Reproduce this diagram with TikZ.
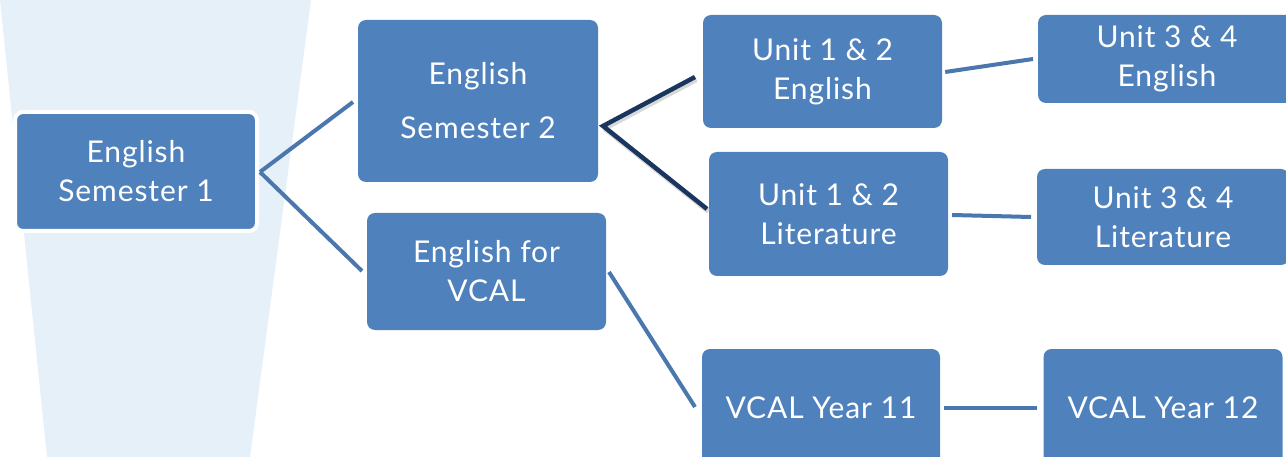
\documentclass[tikz,border=0pt]{standalone}
\usepackage{fontspec}
\setmainfont{Lato}[LetterSpace=3]
\usetikzlibrary{calc}
\definecolor{boxblue}{HTML}{4F81BD}
\definecolor{linkblue}{HTML}{4A77AD}
\definecolor{navy}{HTML}{1B365E}
\definecolor{fadeblue}{HTML}{E5F0F8}
\begin{document}
\begin{tikzpicture}[x=1pt,y=-1pt,
  box/.style={fill=boxblue,rounded corners=8pt,inner sep=0pt,text=white,align=center,
    font=\fontsize{30}{39}\selectfont},
  link/.style={draw=linkblue,line width=4pt},
  darklink/.style={draw=navy,line width=4.5pt,line join=miter},
  shadowlink/.style={draw=black!30,line width=5pt,opacity=0.5}]
\useasboundingbox (0,0) rectangle (1286,457);
\clip (0,0) rectangle (1286,457);
% background fade
\fill[fadeblue] (0,0) -- (311,0) -- (250,457) -- (47,457) -- cycle;
% boxes
\node[box,draw=white,line width=4pt,minimum width=242pt,minimum height=119pt] (s1) at (136,171.5) {English\\Semester 1};
\node[box,minimum width=240pt,minimum height=162pt,font=\fontsize{30}{54}\selectfont] (s2) at (478,101) {English\\Semester 2};
\node[box,minimum width=239pt,minimum height=117pt] (vc) at (486.5,271.5) {English for\\VCAL};
\node[box,minimum width=239pt,minimum height=113pt] (u12e) at (822.5,71.5) {Unit 1 \& 2\\English};
\node[box,minimum width=239pt,minimum height=124pt] (u12l) at (828.5,214) {Unit 1 \& 2\\Literature};
\node[box,minimum width=258pt,minimum height=88pt] (u34e) at (1167,59) {Unit 3 \& 4\\English};
\node[box,minimum width=252pt,minimum height=96pt] (u34l) at (1163,217) {Unit 3 \& 4\\Literature};
\node[box,minimum width=238pt,minimum height=118pt] (y11) at (821,408) {VCAL Year 11};
\node[box,minimum width=239pt,minimum height=118pt] (y12) at (1163,408) {VCAL Year 12};
% connector end points
\coordinate (a1) at ($(s1.east)+(1,0.5)$);
\coordinate (a2) at (603,126);
\coordinate (a3) at (609,272);
% connectors
\draw[link] (a1) -- (353,102);
\draw[link] (a1) -- (362,271);
\draw[shadowlink] ($(a2)+(1.5,2.5)$) -- ($(695,77)+(1.5,2.5)$);
\draw[shadowlink] ($(a2)+(1.5,2.5)$) -- ($(707,209)+(1.5,2.5)$);
\draw[darklink] (695,77) -- (a2) -- (707,209);
\draw[link] ($(u12e.east)+(3,0.5)$) -- (1033,59);
\draw[link] ($(u12l.east)+(4,1)$) -- (1031,217);
\draw[link] (a3) -- (695,407);
\draw[link] ($(y11.east)+(4,0)$) -- ($(y12.west)+(-6,0)$);
\end{tikzpicture}
\end{document}
